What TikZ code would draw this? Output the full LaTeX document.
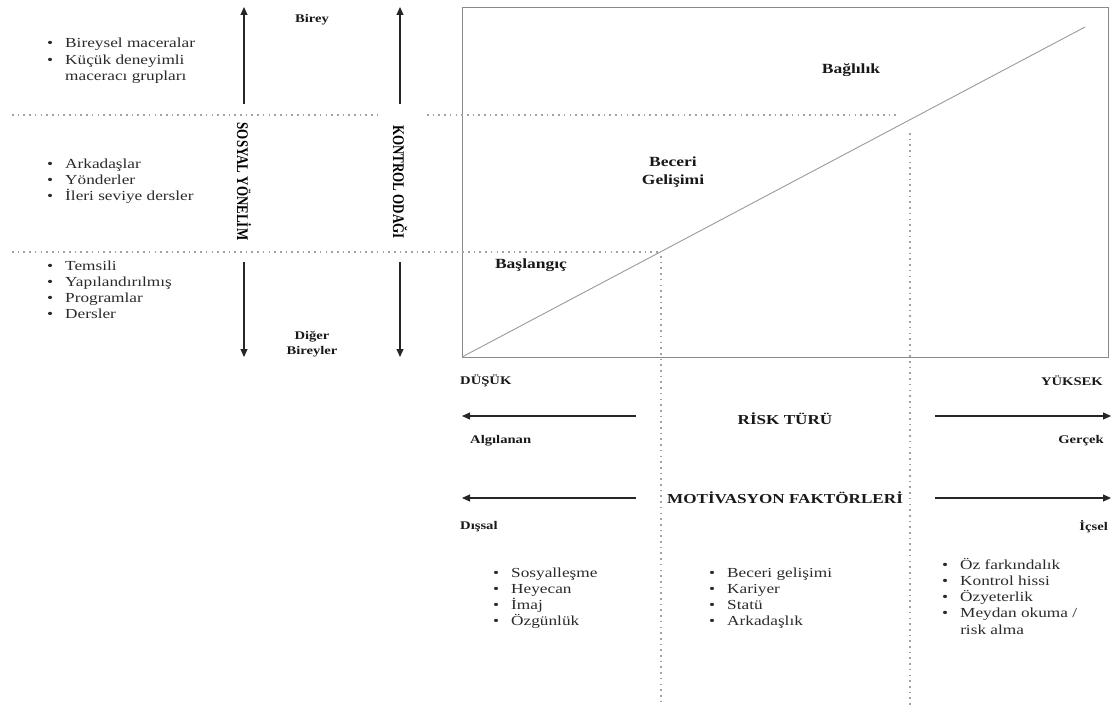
\documentclass[tikz,border=0pt]{standalone}
\usepackage{fontspec}
\usepackage{graphicx}
\setmainfont{Liberation Serif}[FakeStretch=1.25]
\newfontfamily\rotfont{Liberation Serif}
\usetikzlibrary{arrows.meta}
\definecolor{dotgray}{HTML}{A2A2A2}
\definecolor{linegray}{HTML}{9A9A9A}
\definecolor{boxgray}{HTML}{8A8A8A}
\definecolor{txt}{HTML}{2A2A2A}
\newcommand{\bl}[1]{\begin{tabular}[t]{@{}l@{\hspace{12pt}}l@{}}#1\end{tabular}}
\begin{document}
\begin{tikzpicture}[x=1pt,y=-1pt,
 dots/.style={draw=dotgray, line width=1.6pt, dash pattern=on 1.6pt off 4.1pt},
 axarrow/.style={draw=black!85, line width=1.1pt, -{Triangle[length=8pt,width=7pt]}},
 lbl/.style={font=\fontsize{11.7}{14.5}\selectfont\bfseries, inner sep=0pt, text=black!90},
 zone/.style={font=\fontsize{14}{17.5}\selectfont\bfseries, inner sep=0pt, align=center, text=black!90},
 ttl/.style={font=\fontsize{13.7}{16}\selectfont\bfseries, inner sep=0pt, text=black!90},
 blist/.style={font=\fontsize{13.8}{16.3}\selectfont, inner sep=0pt, anchor=base west, text=txt},
 vlabel/.style={font=\rotfont\fontsize{13}{15}\selectfont\bfseries, rotate=-90, inner sep=0pt}]
\useasboundingbox (0,0) rectangle (1118,706);

% box and diagonal
\coordinate (o) at (462,357);
\coordinate (tr) at (1108,7);
\coordinate (dend) at (1085,27);
\draw[boxgray, line width=0.9pt] (o) rectangle (tr);
\draw[linegray, line width=0.9pt] (o) -- (dend);

% dotted guides
\coordinate (h1a) at (12,115); \coordinate (h1b) at (377,115);
\coordinate (h1c) at (427,115); \coordinate (h1d) at (896,115);
\coordinate (h2a) at (12,252); \coordinate (h2b) at (658,252);
\coordinate (v1a) at (661,256); \coordinate (v1b) at (661,706);
\coordinate (v2a) at (910,133); \coordinate (v2b) at (910,706);
\draw[dots] (h1a) -- (h1b);
\draw[dots] (h1c) -- (h1d);
\draw[dots] (h2a) -- (h2b);
\draw[dots] (v1a) -- (v1b);
\draw[dots] (v2a) -- (v2b);

% vertical axes
\node[vlabel] (sos) at (244,181.5) {\scalebox{1}[1.25]{SOSYAL YÖNELİM}};
\node[vlabel] (kon) at (400,182) {\scalebox{1}[1.25]{KONTROL ODAĞI}};
\coordinate (s1) at (244,104); \coordinate (s2) at (244,7);
\coordinate (s3) at (244,262); \coordinate (s4) at (244,357);
\coordinate (k1) at (400,104); \coordinate (k2) at (400,7);
\coordinate (k3) at (400,262); \coordinate (k4) at (400,357);
\draw[axarrow] (s1) -- (s2);
\draw[axarrow] (s3) -- (s4);
\draw[axarrow] (k1) -- (k2);
\draw[axarrow] (k3) -- (k4);
\node[lbl] (birey) at (312,20) {Birey};
\node[lbl, align=center] (diger) at (312,344) {Diğer\\Bireyler};

% left lists
\node[blist] (l1) at (47,48) {\bl{\textbullet & Bireysel maceralar\\ \textbullet & Küçük deneyimli\\ & maceracı grupları}};
\node[blist] (l2) at (47,168) {\bl{\textbullet & Arkadaşlar\\ \textbullet & Yönderler\\ \textbullet & İleri seviye dersler}};
\node[blist] (l3) at (47,270) {\bl{\textbullet & Temsili\\ \textbullet & Yapılandırılmış\\ \textbullet & Programlar\\ \textbullet & Dersler}};

% zone labels
\node[zone] (bag) at (851,70) {Bağlılık};
\node[zone] (bec) at (673,172) {Beceri\\Gelişimi};
\node[zone] (bas) at (531,265) {Başlangıç};

% bottom axis
\node[lbl, anchor=west] (dusuk) at (460,381) {DÜŞÜK};
\node[lbl, anchor=east] (yuksek) at (1103,381) {YÜKSEK};
\node[ttl] (risk) at (785,419) {RİSK TÜRÜ};
\coordinate (r1) at (636,416); \coordinate (r2) at (462,416);
\coordinate (r3) at (935,416); \coordinate (r4) at (1111,416);
\draw[axarrow] (r1) -- (r2);
\draw[axarrow] (r3) -- (r4);
\node[lbl, anchor=west] (alg) at (470,441) {Algılanan};
\node[lbl, anchor=east] (ger) at (1104,441) {Gerçek};

\node[ttl] (mot) at (785,498) {MOTİVASYON FAKTÖRLERİ};
\coordinate (m1) at (636,498); \coordinate (m2) at (462,498);
\coordinate (m3) at (935,498); \coordinate (m4) at (1111,498);
\draw[axarrow] (m1) -- (m2);
\draw[axarrow] (m3) -- (m4);
\node[lbl, anchor=west] (dis) at (460,527) {Dışsal};
\node[lbl, anchor=east] (ic) at (1108,527) {İçsel};

% bottom lists
\node[blist] (b1) at (493,577) {\bl{\textbullet & Sosyalleşme\\ \textbullet & Heyecan\\ \textbullet & İmaj\\ \textbullet & Özgünlük}};
\node[blist] (b2) at (709,577) {\bl{\textbullet & Beceri gelişimi\\ \textbullet & Kariyer\\ \textbullet & Statü\\ \textbullet & Arkadaşlık}};
\node[blist] (b3) at (942,569) {\bl{\textbullet & Öz farkındalık\\ \textbullet & Kontrol hissi\\ \textbullet & Özyeterlik\\ \textbullet & Meydan okuma /\\ & risk alma}};
\end{tikzpicture}
\end{document}
